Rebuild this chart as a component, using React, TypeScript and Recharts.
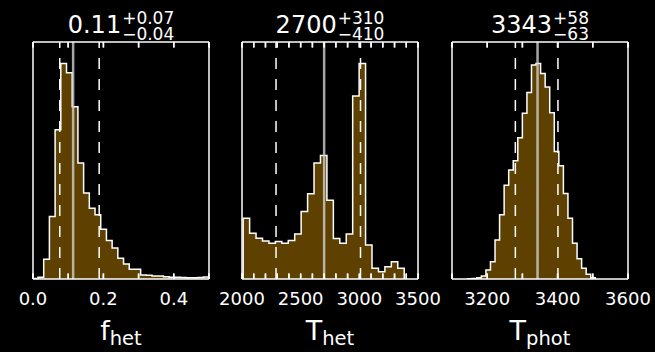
import React from 'react';
import { ComposedChart, Area, XAxis, YAxis, ReferenceLine } from 'recharts';

// f_het histogram (bin start, bin width, heights)
const fhetStart = -0.002;
const fhetBin = 0.0162;
const fhetCounts = [
  0.5, 1.7, 19.7, 62.3, 149, 215, 205.7, 172, 115.7, 85.7, 70.7, 64, 49.7, 38.3, 31, 20.7,
  15, 9.7, 9.7, 4, 3.7, 3, 3, 2.2, 1.7, 1.7, 1.5, 1.2, 1.2, 1.5, 2,
];
const fhetTicks = [0, 0.1, 0.2, 0.3, 0.4, 0.5];
const fhetLabels = [0, 0.2, 0.4];
const fhetLines = [0.076, 0.114, 0.188];

// T_het
const thetStart = 2010;
const thetBin = 54.9;
const thetCounts = [
  60.7, 45.7, 40.7, 38, 35.7, 37.3, 35.7, 38.3, 45, 67.3, 85, 115.7, 123.3, 78.5, 40.5, 35.7,
  45, 182.5, 215, 34, 10.7, 7.3, 12.3, 17.3, 10.7,
];
const thetTicks = [2000, 2100, 2200, 2300, 2400, 2500, 2600, 2700, 2800, 2900, 3000, 3100, 3200, 3300, 3400, 3500];
const thetLabels = [2000, 2500, 3000, 3500];
const thetLines = [2290, 2700, 3010];

// T_phot
const tphotStart = 3144.5;
const tphotBin = 12.95;
const tphotCounts = [
  0.3, 0.5, 1.3, 3, 9, 17.3, 39, 64, 93.5, 108.7, 118, 141, 165.3, 186, 213.5, 215, 205, 191.5,
  166, 127.3, 113, 85.3, 60.7, 35.7, 20.2, 10.7, 4.8, 1.2,
];
const tphotTicks = [3100, 3200, 3300, 3400, 3500, 3600];
const tphotLabels = [3200, 3400, 3600];
const tphotLines = [3280, 3343, 3401];

const titles = [
  { main: '0.11', up: '+0.07', down: '−0.04' },
  { main: '2700', up: '+310', down: '−410' },
  { main: '3343', up: '+58', down: '−63' },
];
const xNames = [
  { main: 'f', sub: 'het' },
  { main: 'T', sub: 'het' },
  { main: 'T', sub: 'phot' },
];

const W = 655;
const H = 352;
const PLOT_TOP = 42;
const PLOT_BOTTOM = 279;
const PLOT_W = 176;
const PAD = 30;
const EDGE = 4; // chart margin outside the axis boxes
const TICK_LEN = 5.5;
const BROWN = '#5e4000';
const FONT = 'DejaVu Sans, sans-serif';
const frame = { stroke: '#fff', strokeWidth: 1.5 };
const tickStyle = { stroke: '#fff', strokeWidth: 1.5 };

function toSteps(start: number, bin: number, counts: number[]) {
  const end = start + counts.length * bin;
  return [
    { x: start, y: 0 },
    ...counts.map((c, i) => ({ x: start + i * bin, y: c })),
    { x: end, y: counts[counts.length - 1] },
    { x: end, y: 0 },
  ];
}

// label text only; y arrives at the inner end of the inward tick
function BottomLabel(props: any) {
  const { x, y, payload, labels, fmt } = props;
  if (!labels.includes(payload.value)) return <g />;
  return (
    <text x={x} y={y + TICK_LEN + 26} textAnchor="middle" fill="#fff" fontSize={18} fontFamily={FONT}>
      {fmt(payload.value)}
    </text>
  );
}

interface PanelProps {
  left: number;
  start: number;
  bin: number;
  counts: number[];
  domain: [number, number];
  ticks: number[];
  labels: number[];
  lines: number[];
  fmt: (v: number) => string;
}

function Panel({ left, start, bin, counts, domain, ticks, labels, lines, fmt }: PanelProps) {
  const rows = toSteps(start, bin, counts);
  const ymax = Math.max(...counts) * 1.1;
  // inward tick length in y data units
  const tl = (ymax * TICK_LEN) / (PLOT_BOTTOM - PLOT_TOP);
  return (
    <div style={{ position: 'absolute', left: left - PAD, top: 0 }}>
      <ComposedChart
        width={PLOT_W + 2 * PAD}
        height={H}
        data={rows}
        margin={{ top: EDGE, bottom: EDGE, left: EDGE, right: EDGE }}
      >
        <Area
          xAxisId="b"
          yAxisId="l"
          type="stepAfter"
          dataKey="y"
          stroke="#fff"
          strokeWidth={1.5}
          fill={BROWN}
          fillOpacity={1}
          dot={false}
          activeDot={false}
          isAnimationActive={false}
        />
        <ReferenceLine xAxisId="b" yAxisId="l" x={lines[0]} stroke="#fff" strokeWidth={1.5} strokeDasharray="11 10" />
        <ReferenceLine xAxisId="b" yAxisId="l" x={lines[2]} stroke="#fff" strokeWidth={1.5} strokeDasharray="11 10" />
        <ReferenceLine xAxisId="b" yAxisId="l" x={lines[1]} stroke="#d0d0d0" strokeOpacity={0.8} strokeWidth={2.5} />
        {ticks.map((v) => (
          <ReferenceLine
            key={'tb' + v}
            xAxisId="b"
            yAxisId="l"
            ifOverflow="visible"
            segment={[{ x: v, y: 0 }, { x: v, y: tl }]}
            stroke="#fff"
            strokeWidth={1.5}
          />
        ))}
        {ticks.map((v) => (
          <ReferenceLine
            key={'tt' + v}
            xAxisId="b"
            yAxisId="l"
            ifOverflow="visible"
            segment={[{ x: v, y: ymax - tl }, { x: v, y: ymax }]}
            stroke="#fff"
            strokeWidth={1.5}
          />
        ))}
        <XAxis
          xAxisId="b"
          type="number"
          dataKey="x"
          domain={domain}
          allowDataOverflow
          ticks={ticks}
          interval={0}
          height={H - PLOT_BOTTOM - EDGE}
          tickSize={-TICK_LEN}
          tickMargin={0}
          tickLine={tickStyle}
          axisLine={frame}
          tick={(t: any) => <BottomLabel {...t} labels={labels} fmt={fmt} />}
        />
        <XAxis
          xAxisId="t"
          orientation="top"
          type="number"
          dataKey="x"
          domain={domain}
          allowDataOverflow
          ticks={ticks}
          interval={0}
          height={PLOT_TOP - EDGE}
          tickSize={-TICK_LEN}
          tickMargin={0}
          tick={() => <g />}
          tickLine={tickStyle}
          axisLine={frame}
        />
        <YAxis yAxisId="l" type="number" domain={[0, ymax]} allowDataOverflow width={PAD - EDGE} tick={false} tickLine={false} axisLine={frame} />
        <YAxis yAxisId="r" orientation="right" type="number" domain={[0, ymax]} allowDataOverflow width={PAD - EDGE} tick={false} tickLine={false} axisLine={frame} />
      </ComposedChart>
    </div>
  );
}

const lefts = [33, 242, 452];

export default function App() {
  return (
    <div style={{ position: 'absolute', left: 0, top: 0, width: W, height: H, background: '#000', overflow: 'hidden', fontFamily: FONT }}>
      <Panel left={lefts[0]} start={fhetStart} bin={fhetBin} counts={fhetCounts} domain={[0, 0.5]} ticks={fhetTicks} labels={fhetLabels} lines={fhetLines} fmt={(v) => v.toFixed(1)} />
      <Panel left={lefts[1]} start={thetStart} bin={thetBin} counts={thetCounts} domain={[2000, 3500]} ticks={thetTicks} labels={thetLabels} lines={thetLines} fmt={(v) => String(v)} />
      <Panel left={lefts[2]} start={tphotStart} bin={tphotBin} counts={tphotCounts} domain={[3100, 3600]} ticks={tphotTicks} labels={tphotLabels} lines={tphotLines} fmt={(v) => String(v)} />

      {titles.map((t, i) => (
        <div
          key={'t' + i}
          style={{ position: 'absolute', left: lefts[i], top: 0, width: PLOT_W, display: 'flex', justifyContent: 'center', alignItems: 'flex-start', color: '#fff' }}
        >
          <span style={{ fontSize: 24, lineHeight: '24px', marginTop: 12.7 }}>{t.main}</span>
          <span style={{ display: 'flex', flexDirection: 'column', alignItems: 'flex-start', marginLeft: 1, marginTop: 9.9 }}>
            <span style={{ fontSize: 17, lineHeight: '16.5px' }}>{t.up}</span>
            <span style={{ fontSize: 17, lineHeight: '16.5px' }}>{t.down}</span>
          </span>
        </div>
      ))}

      <svg width={W} height={H} style={{ position: 'absolute', left: 0, top: 0, pointerEvents: 'none' }}>
        {xNames.map((n, i) => (
          <text key={'x' + i} x={lefts[i] + PLOT_W / 2} y={340} textAnchor="middle" fill="#fff" fontSize={27} fontFamily={FONT}>
            {n.main}
            <tspan fontSize={19.5} dy={4.5}>{n.sub}</tspan>
          </text>
        ))}
      </svg>
    </div>
  );
}
